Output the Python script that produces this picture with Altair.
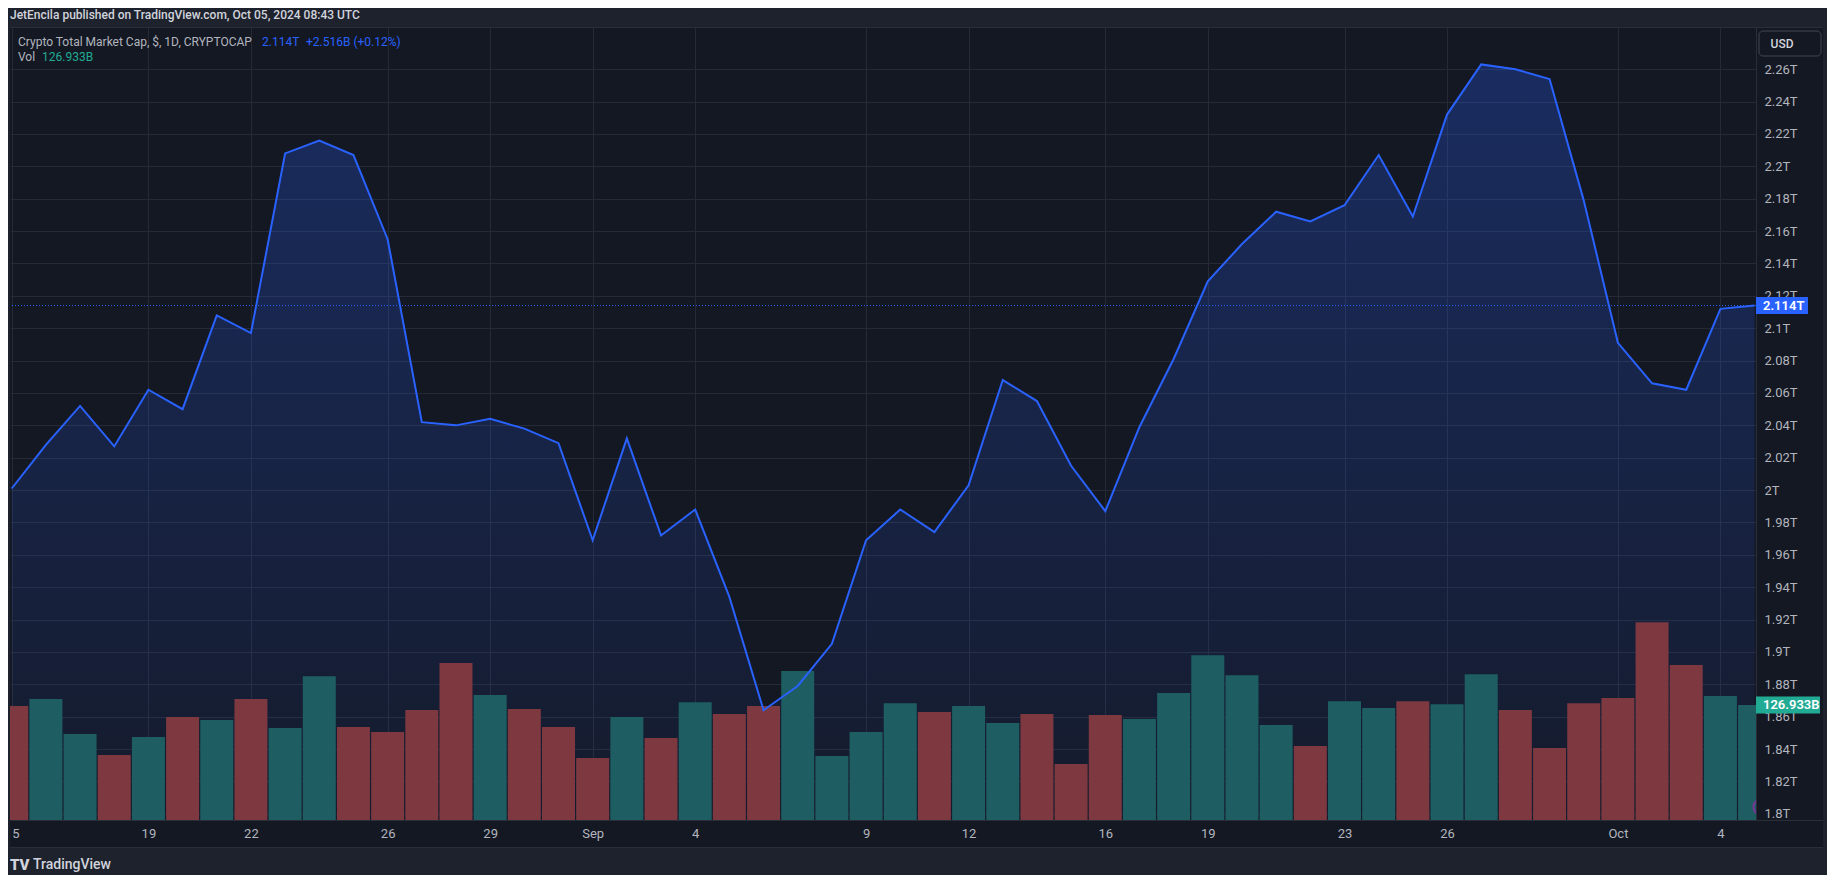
import altair as alt
import pandas as pd

# ---------------- data ----------------
DATES = [
    "2024-08-15", "2024-08-16", "2024-08-17", "2024-08-18", "2024-08-19", "2024-08-20",
    "2024-08-21", "2024-08-22", "2024-08-23", "2024-08-24", "2024-08-25", "2024-08-26",
    "2024-08-27", "2024-08-28", "2024-08-29", "2024-08-30", "2024-08-31",
    "2024-09-01", "2024-09-02", "2024-09-03", "2024-09-04", "2024-09-05", "2024-09-06",
    "2024-09-07", "2024-09-08", "2024-09-09", "2024-09-10", "2024-09-11", "2024-09-12",
    "2024-09-13", "2024-09-14", "2024-09-15", "2024-09-16", "2024-09-17", "2024-09-18",
    "2024-09-19", "2024-09-20", "2024-09-21", "2024-09-22", "2024-09-23", "2024-09-24",
    "2024-09-25", "2024-09-26", "2024-09-27", "2024-09-28", "2024-09-29", "2024-09-30",
    "2024-10-01", "2024-10-02", "2024-10-03", "2024-10-04", "2024-10-05",
]

# total market cap close, trillions USD
PRICE_T = [
    2.001, 2.028, 2.052, 2.027, 2.062, 2.050,
    2.108, 2.097, 2.208, 2.216, 2.207, 2.155,
    2.042, 2.040, 2.044, 2.038, 2.029,
    1.969, 2.032, 1.972, 1.988, 1.934, 1.864,
    1.879, 1.905, 1.969, 1.988, 1.974, 2.003,
    2.068, 2.055, 2.015, 1.987, 2.039, 2.081,
    2.129, 2.152, 2.172, 2.166, 2.176, 2.207,
    2.169, 2.232, 2.263, 2.260, 2.254, 2.179,
    2.091, 2.066, 2.062, 2.112, 2.114,
]

# volume, billions USD
VOLUME_B = [
    125.8, 133.6, 94.9, 71.7, 91.6, 113.7,
    110.4, 133.6, 101.5, 158.9, 102.6, 97.1,
    121.4, 173.3, 138.0, 122.5, 102.6,
    68.4, 113.7, 90.5, 130.2, 117.0, 125.8,
    164.5, 70.6, 97.1, 129.1, 119.2, 125.8,
    107.1, 117.0, 61.8, 115.9, 111.5, 140.2,
    182.1, 160.0, 104.9, 81.7, 131.3, 123.6,
    131.3, 128.0, 161.1, 121.4, 79.5, 129.1,
    134.7, 218.5, 171.1, 136.9, 126.933,
]

DIRECTION = [
    "down", "up", "up", "down", "up", "down",
    "up", "down", "up", "up", "down", "down",
    "down", "down", "up", "down", "down",
    "down", "up", "down", "up", "down", "down",
    "up", "up", "up", "up", "down", "up",
    "up", "down", "down", "down", "up", "up",
    "up", "up", "up", "down", "up", "up",
    "down", "up", "up", "down", "down", "down",
    "down", "down", "down", "up", "up",
]

X_TICK_DATES = ["2024-08-15", "2024-08-19", "2024-08-22", "2024-08-26", "2024-08-29",
                "2024-09-01", "2024-09-04", "2024-09-09", "2024-09-12", "2024-09-16",
                "2024-09-19", "2024-09-23", "2024-09-26", "2024-10-01", "2024-10-04"]
X_TICK_LABELS = ["15", "19", "22", "26", "29", "Sep", "4", "9", "12", "16",
                 "19", "23", "26", "Oct", "4"]

PRICE_TICKS = [1.80, 1.82, 1.84, 1.86, 1.88, 1.90, 1.92, 1.94, 1.96, 1.98, 2.00, 2.02,
               2.04, 2.06, 2.08, 2.10, 2.12, 2.14, 2.16, 2.18, 2.20, 2.22, 2.24, 2.26]

HEADER = "JetEncila published on TradingView.com, Oct 05, 2024 08:43 UTC"
SYMBOL = "Crypto Total Market Cap, $, 1D, CRYPTOCAP"
LAST_PRICE_TXT = "2.114T"
CHANGE_TXT = "+2.516B (+0.12%)"
VOL_TXT = "126.933B"

# ---------------- layout / style ----------------
W, H = 1746, 793
X_DOMAIN = [0.096, 50.895]
Y_DOMAIN = [1.7962, 2.2861]
VOL_DOMAIN = [0, 876]

FRAME = "#1e222d"
PANE = "#141823"
GRID = "#262a36"
BORDER = "#2a2e39"
TXT = "#b2b5be"
BLUE = "#2962ff"
TEAL_LBL = "#22ab94"
BAR_UP = "#1e5e62"
BAR_DOWN = "#7d3840"
FONT = "Roboto"

day_idx = list(range(len(DATES)))
df = pd.DataFrame({
    "date": DATES,
    "day": day_idx,
    "price": PRICE_T,
    "volume": VOLUME_B,
    "dir": DIRECTION,
})
df["price_label"] = [f"{p:.3f}T" for p in PRICE_T]
df["vol_label"] = [f"{v:.3f}B" for v in VOLUME_B]
last = df.tail(1).copy()

tick_idx = [DATES.index(d) for d in X_TICK_DATES]
x_label_expr = " : ".join(
    [f"datum.value == {i} ? '{lab}'" for i, lab in zip(tick_idx, X_TICK_LABELS)] + ["''"]
)

x_enc = alt.X(
    "day:Q",
    scale=alt.Scale(domain=X_DOMAIN, nice=False, zero=False),
    axis=alt.Axis(
        values=tick_idx, tickCount=len(tick_idx) + 10, labelExpr=x_label_expr,
        title=None, ticks=False,
        grid=True, gridColor=GRID, gridWidth=1,
        domain=True, domainColor=BORDER,
        labelColor=TXT, labelFont=FONT, labelFontSize=13, labelPadding=7,
        labelFlush=False, labelOverlap=False,
    ),
)

price_scale = alt.Scale(domain=Y_DOMAIN, nice=False, zero=False)
vol_scale = alt.Scale(domain=VOL_DOMAIN, nice=False, zero=True)

price_axis = alt.Axis(
    orient="right", values=PRICE_TICKS, tickCount=len(PRICE_TICKS) + 10,
    title=None, ticks=False,
    labelExpr="toString(round(datum.value * 100) / 100) + 'T'",
    grid=True, gridColor=GRID, gridWidth=1,
    domain=True, domainColor=BORDER,
    labelColor=TXT, labelFont=FONT, labelFontSize=13, labelPadding=8,
    labelAlign="left", labelBaseline="middle", labelOverlap=False, labelFlush=False,
)

# ---------------- price area (carries the price axis + grid) ----------------
area = alt.Chart(df).mark_area(
    clip=True,
    color=alt.Gradient(
        gradient="linear",
        stops=[
            alt.GradientStop(color="rgba(41,98,255,0.04)", offset=0),
            alt.GradientStop(color="rgba(41,98,255,0.28)", offset=1),
        ],
        x1=1, x2=1, y1=1, y2=0,
    ),
).encode(
    x=x_enc,
    y=alt.Y("price:Q", scale=price_scale, axis=price_axis),
    y2=alt.datum(Y_DOMAIN[0]),
)

# ---------------- volume ----------------
half_v = 8.5 * (VOL_DOMAIN[1] - VOL_DOMAIN[0]) / H
last_v = last.copy()
last_v["v_hi"] = last_v["volume"] + half_v
last_v["v_lo"] = last_v["volume"] - half_v

bars = alt.Chart(df).mark_bar(clip=True, size=33).encode(
    x=x_enc,
    y=alt.Y("volume:Q", scale=vol_scale, axis=None),
    color=alt.Color("dir:N", scale=alt.Scale(domain=["up", "down"], range=[BAR_UP, BAR_DOWN]),
                    legend=None),
)
vol_box = alt.Chart(last_v).mark_rect(color=TEAL_LBL).encode(
    x=alt.value(W), x2=alt.value(W + 64),
    y=alt.Y("v_hi:Q", scale=vol_scale, axis=None), y2="v_lo:Q",
)
vol_text = alt.Chart(last_v).mark_text(
    align="left", baseline="middle", color="white", font=FONT, fontSize=13, fontWeight=600
).encode(x=alt.value(W + 7), y=alt.Y("volume:Q", scale=vol_scale, axis=None),
         text="vol_label:N")
vol_icon = alt.Chart(last_v).mark_point(
    clip=True, shape="circle", size=230, filled=False, color="#9c27b0", strokeWidth=2
).encode(x=alt.value(W + 5), y=alt.value(H - 13))

vol_layer = alt.layer(bars, vol_box, vol_text, vol_icon)

# ---------------- price line + dotted last price + label ----------------
half_p = 8.5 * (Y_DOMAIN[1] - Y_DOMAIN[0]) / H
last_p = last.copy()
last_p["p_hi"] = last_p["price"] + half_p
last_p["p_lo"] = last_p["price"] - half_p

price_rule = alt.Chart(last_p).mark_rule(
    clip=True, color=BLUE, strokeDash=[1, 2], strokeWidth=1
).encode(y=alt.Y("price:Q", scale=price_scale, axis=None))

line = alt.Chart(df).mark_line(clip=True, color=BLUE, strokeWidth=2).encode(
    x=x_enc,
    y=alt.Y("price:Q", scale=price_scale, axis=None),
)
price_box = alt.Chart(last_p).mark_rect(color=BLUE).encode(
    x=alt.value(W), x2=alt.value(W + 52),
    y=alt.Y("p_hi:Q", scale=price_scale, axis=None), y2="p_lo:Q",
)
price_text = alt.Chart(last_p).mark_text(
    align="left", baseline="middle", color="white", font=FONT, fontSize=13, fontWeight=600
).encode(x=alt.value(W + 7), y=alt.Y("price:Q", scale=price_scale, axis=None),
         text="price_label:N")

line_layer = alt.layer(price_rule, line, price_box, price_text)

# ---------------- decorations ----------------
one = pd.DataFrame({"k": [0]})


def rect(x, x2, y, y2, color, **kw):
    return alt.Chart(one).mark_rect(color=color, **kw).encode(
        x=alt.value(x), x2=alt.value(x2), y=alt.value(y), y2=alt.value(y2))


def txt(s, x, y, color, size=13, weight=400, align="left"):
    return alt.Chart(pd.DataFrame({"t": [s]})).mark_text(
        align=align, baseline="middle", color=color, font=FONT, fontSize=size, fontWeight=weight
    ).encode(x=alt.value(x), y=alt.value(y), text="t:N")


deco = alt.layer(
    rect(-2, 1817, -19, 0, FRAME),            # header strip
    rect(-2, 1817, 821, 848, FRAME),          # footer strip
    rect(-2, 0, -19, 848, FRAME),             # left frame
    rect(1813, 1817, -19, 848, FRAME),        # right frame
    rect(0, 1813, 0, 1, BORDER),              # top border
    rect(0, 1813, 820, 821, BORDER),          # bottom border
    rect(W, 1813, H, H + 1, BORDER),          # pane / time axis line under price axis
    rect(1749, 1811, 4, 29, PANE, stroke="#434651", strokeWidth=1, cornerRadius=4),
    txt("USD", 1772, 17, "#d1d4dc", 12, 500, "center"),
    txt(HEADER, 0, -12, "#d1d4dc", 12, 500),
    txt(SYMBOL, 8, 15, TXT, 12),
    txt(LAST_PRICE_TXT, 252, 15, BLUE, 12),
    txt(CHANGE_TXT, 296, 15, BLUE, 12),
    txt("Vol", 8, 30, TXT, 12),
    txt(VOL_TXT, 32, 30, TEAL_LBL, 12),
    txt("TV", 0, 838, "#d1d4dc", 15, 900),
    txt("TradingView", 23, 838, "#d1d4dc", 14, 500),
)

chart = alt.layer(area, vol_layer, line_layer, deco).resolve_scale(
    y="independent"
).properties(
    width=W, height=H,
    padding={"left": 2, "top": 19, "right": 71, "bottom": 55},
    autosize=alt.AutoSizeParams(type="none"),
    background=PANE,
).configure_view(strokeWidth=0)

chart.save("out.html", embed_options={"renderer": "svg", "actions": False})
